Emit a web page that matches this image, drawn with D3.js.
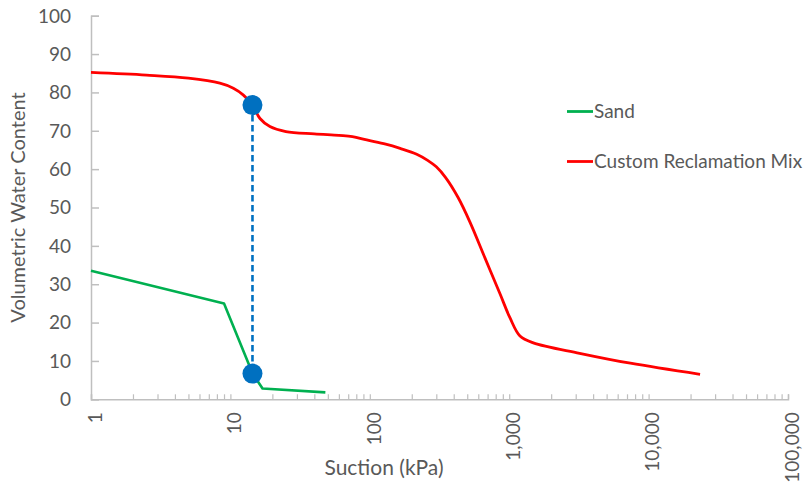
<!DOCTYPE html>
<html>
<head>
<meta charset="utf-8">
<script src="https://cdn.jsdelivr.net/npm/d3@7"></script>
<style>
  html, body { margin: 0; padding: 0; background: #fff; }
  svg { display: block; font-family: Lato, "Open Sans", sans-serif; }
</style>
</head>
<body>
<svg id="chart" width="804" height="491"></svg>
<script>
// Soil-water characteristic curves: suction (kPa) vs volumetric water content
const sandSuction = [1, 9, 14.4, 17, 48];
const sandWater   = [33.5, 25.0, 6.8, 2.8, 1.8];

const mixSuction = [1, 2.5, 5, 8.4, 10.5, 12.4, 14.4, 16.3, 19.2, 25, 40, 60, 75,
                    95, 130, 165, 217, 260, 300, 350, 430, 523, 671, 859, 1014, 1195,
                    1489, 3200, 7400, 23400];
const mixWater   = [85.2, 84.5, 83.7, 82.4, 81.1, 79.3, 76.7, 73.2, 71.1, 69.8, 69.2, 68.8, 68.5,
                    67.6, 66.5, 65.4, 63.9, 62.3, 60.6, 57.8, 52.6, 46.2, 36.8, 27.5, 21.2, 16.5,
                    14.7, 12.0, 9.4, 6.5];

// Marked suction with the water content of each soil at that suction
const markSuction = [14.4, 14.4];
const markWater   = [76.7, 6.7];

const xTicks = [1, 10, 100, 1000, 10000, 100000];
const yTicks = [0, 10, 20, 30, 40, 50, 60, 70, 80, 90, 100];

const seriesNames  = ["Sand", "Custom Reclamation Mix"];
const seriesColors = ["#00B050", "#FF0000"];

const svg = d3.select("#chart");
const plotLeft = 91, plotRight = 788, plotTop = 15.7, plotBottom = 399.3;

const x = d3.scaleLog().domain([1, 100000]).range([plotLeft, plotRight]);
const y = d3.scaleLinear().domain([0, 100]).range([plotBottom, plotTop]);

const axisColor = "#BFBFBF";
const textColor = "#595959";

// Y axis
const yAxis = svg.append("g")
  .attr("transform", `translate(${plotLeft},0)`)
  .call(d3.axisRight(y).tickValues(yTicks).tickSize(8).tickFormat(""));
yAxis.select(".domain").attr("stroke", axisColor).attr("stroke-width", 1.5);
yAxis.selectAll(".tick line").attr("stroke", axisColor).attr("stroke-width", 1.5);

svg.append("g").selectAll("text")
  .data(yTicks).join("text")
  .attr("x", plotLeft - 20)
  .attr("y", d => y(d))
  .attr("dy", "0.36em")
  .attr("text-anchor", "end")
  .attr("fill", textColor)
  .attr("font-size", 19)
  .text(d => d);

// X axis with minor ticks inside the plot
const minorTicks = [];
for (let e = 0; e < 5; e++) {
  for (let m = 2; m <= 9; m++) minorTicks.push(m * Math.pow(10, e));
}
const xAxis = svg.append("g")
  .attr("transform", `translate(0,${plotBottom})`)
  .call(d3.axisTop(x).tickValues(xTicks.concat(minorTicks)).tickSize(5).tickFormat(""));
xAxis.select(".domain").attr("stroke", axisColor).attr("stroke-width", 1.5);
xAxis.selectAll(".tick line").attr("stroke", axisColor).attr("stroke-width", 1.2);

const fmt = d3.format(",");
svg.append("g").selectAll("text")
  .data(xTicks).join("text")
  .attr("transform", d => `translate(${x(d) + 4},${plotBottom + 13}) rotate(-90)`)
  .attr("dy", "0.36em")
  .attr("text-anchor", "end")
  .attr("fill", textColor)
  .attr("font-size", 19)
  .text(d => fmt(d));

// Axis titles
svg.append("text")
  .attr("x", 384).attr("y", 475)
  .attr("text-anchor", "middle")
  .attr("fill", textColor)
  .attr("font-size", 21)
  .text("Suction (kPa)");

svg.append("text")
  .attr("transform", "translate(25,207.5) rotate(-90)")
  .attr("text-anchor", "middle")
  .attr("fill", textColor)
  .attr("font-size", 20)
  .text("Volumetric Water Content");

// Curves
const sandData = sandSuction.map((s, i) => [s, sandWater[i]]);
const mixData  = mixSuction.map((s, i) => [s, mixWater[i]]);

const straight = d3.line().x(d => x(d[0])).y(d => y(d[1]));
const smooth   = d3.line().x(d => x(d[0])).y(d => y(d[1])).curve(d3.curveCatmullRom.alpha(0.5));

svg.append("path")
  .datum(sandData)
  .attr("d", straight)
  .attr("fill", "none")
  .attr("stroke", seriesColors[0])
  .attr("stroke-width", 2.6)
  .attr("stroke-linejoin", "round");

svg.append("path")
  .datum(mixData)
  .attr("d", smooth)
  .attr("fill", "none")
  .attr("stroke", seriesColors[1])
  .attr("stroke-width", 2.8)
  .attr("stroke-linejoin", "round");

// Marker connecting both curves at the same suction
const markData = markSuction.map((s, i) => [s, markWater[i]]);
svg.append("path")
  .datum(markData)
  .attr("d", straight)
  .attr("fill", "none")
  .attr("stroke", "#0070C0")
  .attr("stroke-width", 2.6)
  .attr("stroke-dasharray", "6.5,3.5");

svg.append("g").selectAll("circle")
  .data(markData).join("circle")
  .attr("cx", d => x(d[0]))
  .attr("cy", d => y(d[1]))
  .attr("r", 10)
  .attr("fill", "#0070C0");

// Legend
const legend = svg.append("g").selectAll("g")
  .data(seriesNames).join("g")
  .attr("transform", (d, i) => `translate(567,${111.5 + i * 50})`);
legend.append("line")
  .attr("x1", 0).attr("x2", 26)
  .attr("stroke", (d, i) => seriesColors[i])
  .attr("stroke-width", 2.8);
legend.append("text")
  .attr("x", 27).attr("dy", "0.35em")
  .attr("fill", textColor)
  .attr("font-size", 19)
  .text(d => d);
</script>
</body>
</html>
